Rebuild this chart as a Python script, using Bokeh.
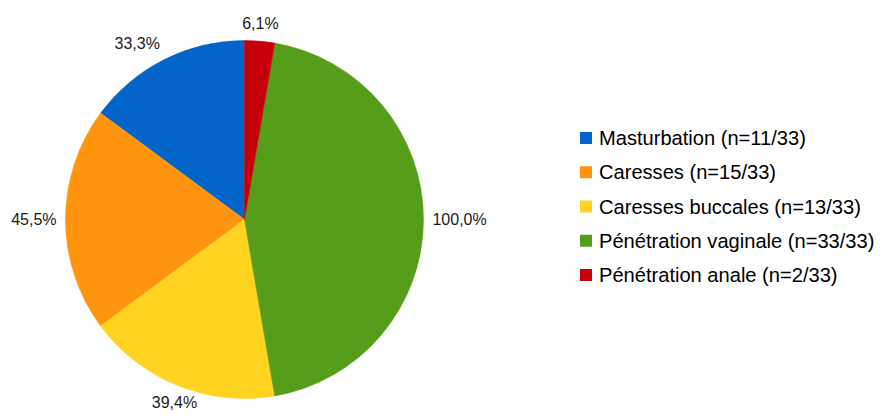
import math
from bokeh.plotting import figure
from bokeh.models import Range1d, ColumnDataSource
from bokeh.core.properties import value
from bokeh.embed import file_html
from bokeh.resources import INLINE

categories = ["Masturbation", "Caresses", "Caresses buccales",
              "Pénétration vaginale", "Pénétration anale"]
counts = [11, 15, 13, 33, 2]
respondents = 33
colors = ["#0364C9", "#FF950E", "#FFD320", "#579D1C", "#C5000B"]

FONT = "Liberation Sans"
R = 179
W, H = 878, 413
CX, CY = 244, 219

total = sum(counts)
starts, ends, mids = [], [], []
acc = 0.0
for c in counts:
    a0 = math.pi / 2 + acc / total * 2 * math.pi
    acc += c
    a1 = math.pi / 2 + acc / total * 2 * math.pi
    starts.append(a0)
    ends.append(a1)
    mids.append((a0 + a1) / 2)

p = figure(width=W, height=H, output_backend="svg", toolbar_location=None,
           x_range=Range1d(-CX, W - CX), y_range=Range1d(CY - H, CY),
           min_border=0)
p.axis.visible = False
p.grid.visible = False
p.outline_line_color = None
p.background_fill_color = "white"

src = ColumnDataSource(dict(start=starts, end=ends, color=colors))
p.wedge(x=0, y=0, radius=R, start_angle="start", end_angle="end",
        fill_color="color", line_color="color", line_width=0.5, source=src)

# percentage labels
lx, ly, lt, la, lb = [], [], [], [], []
for c, m in zip(counts, mids):
    cs, sn = math.cos(m), math.sin(m)
    r = R * 1.05
    lx.append(r * cs)
    ly.append(r * sn)
    lt.append(f"{c / respondents * 100:.1f}".replace(".", ",") + "%")
    la.append("left" if cs > 0.4 else ("right" if cs < -0.4 else "center"))
    lb.append("bottom" if sn > 0.4 else ("top" if sn < -0.4 else "middle"))
p.text(x=lx, y=ly, text=lt, text_align=la, text_baseline=lb,
       text_font=value(FONT), text_font_size="16px", text_color="#1a1a1a")

# legend
leg_x = 341.5
leg_y0 = 81.5
leg_dy = 34.25
ys = [leg_y0 - i * leg_dy for i in range(len(categories))]
p.rect(x=[leg_x] * len(ys), y=ys, width=12, height=12,
       fill_color=colors, line_color=None)
p.text(x=[leg_x + 13] * len(ys), y=ys,
       text=[f"{c} (n={n}/{respondents})" for c, n in zip(categories, counts)],
       text_align="left", text_baseline="middle",
       text_font=value(FONT), text_font_size="20.1px", text_color="#000000")

open("out.html", "w").write(file_html(p, INLINE))
